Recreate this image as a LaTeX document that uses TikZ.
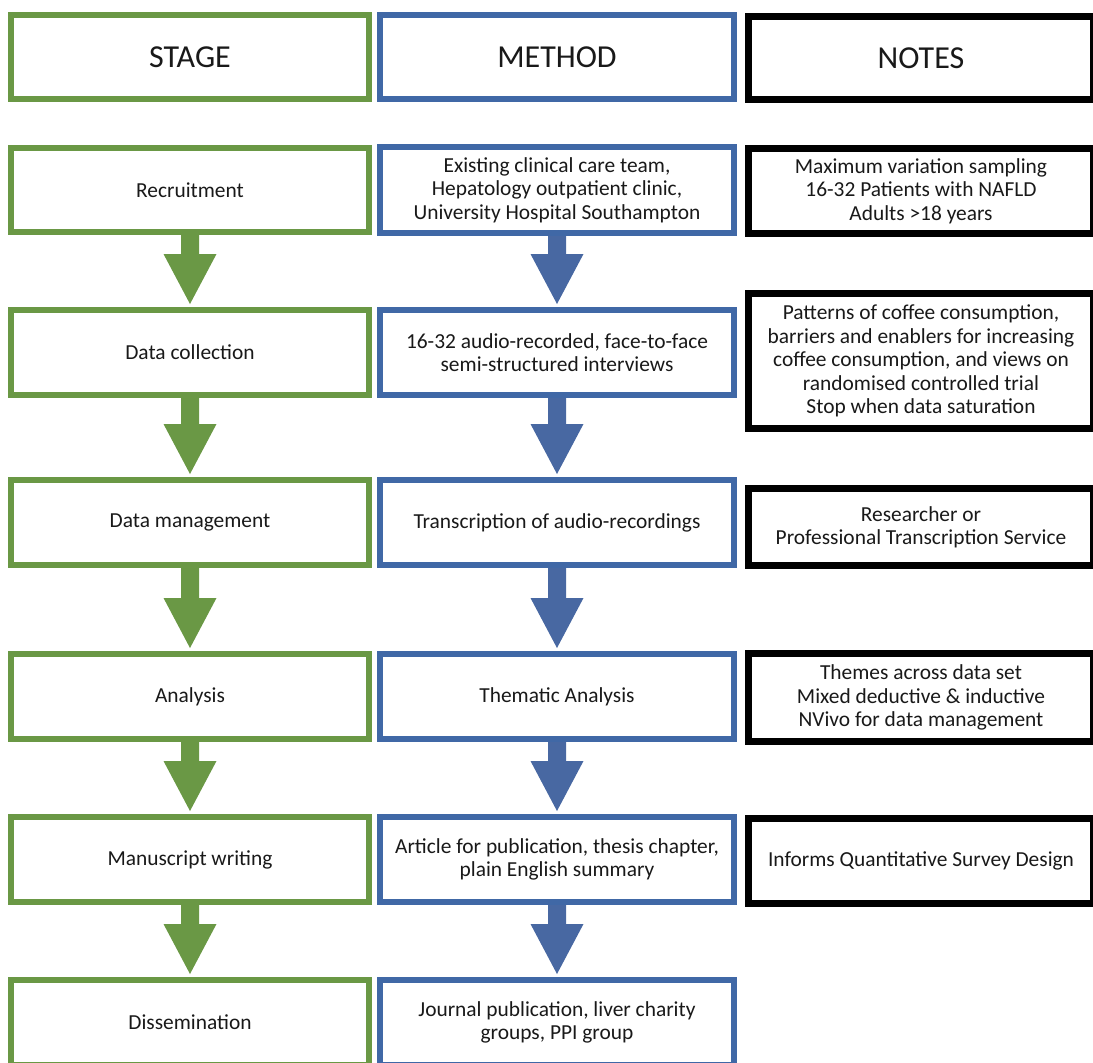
\documentclass[tikz,border=0pt]{standalone}
\usepackage{fontspec}
\setmainfont{Carlito}
\usetikzlibrary{calc}

\definecolor{stagegreen}{RGB}{106,152,69}
\definecolor{methodblue}{RGB}{64,104,166}
\definecolor{arrowblue}{RGB}{72,104,162}

% block arrow from the bottom of one box to the top of the next
\newcommand{\blockarrow}[3]{%
  \fill[#1] ($(#2.south)+(-9,0)$) -- ($(#3.north)+(-9,-53)$)
    -- ($(#3.north)+(-26.5,-53)$) -- ($(#3.north)+(0,-3)$)
    -- ($(#3.north)+(26.5,-53)$) -- ($(#3.north)+(9,-53)$)
    -- ($(#2.south)+(9,0)$) -- cycle;}

\begin{document}
\begin{tikzpicture}[x=1pt,y=-1pt,
  box/.style={draw, fill=white, rectangle, align=center, inner sep=1pt,
    font=\fontsize{21.4}{23.4}\selectfont, text=black!90},
  head/.style={font=\fontsize{32}{36}\selectfont, text depth=0pt, yshift=0pt},
  stagebox/.style={box, draw=stagegreen, line width=6pt, minimum width=358pt},
  methodbox/.style={box, draw=methodblue, line width=6pt, minimum width=354pt},
  notebox/.style={box, draw=black, line width=7pt, minimum width=345pt}]
\useasboundingbox (0,0) rectangle (1093,1063);

% column headings
\node[stagebox, head, minimum height=84pt] (sH) at (190,57) {STAGE};
\node[methodbox, head, minimum height=84pt] (mH) at (557,57) {METHOD};
\node[notebox, head, minimum height=83pt] (nH) at (921,58) {NOTES};

% stage column
\node[stagebox, minimum height=84pt] (s1) at (190,190) {Recruitment};
\node[stagebox, minimum height=85pt] (s2) at (190,352.5) {Data collection};
\node[stagebox, minimum height=85pt] (s3) at (190,522.5) {Data management};
\node[stagebox, minimum height=85pt] (s4) at (190,696.5) {Analysis};
\node[stagebox, minimum height=85pt] (s5) at (190,859.5) {Manuscript writing};
\node[stagebox, minimum height=85pt] (s6) at (190,1022.5) {Dissemination};

% method column
\node[methodbox, minimum height=86pt] (m1) at (557,190)
  {Existing clinical care team,\\Hepatology outpatient clinic,\\University Hospital Southampton};
\node[methodbox, minimum height=85pt] (m2) at (557,352.5)
  {16-32 audio-recorded, face-to-face\\semi-structured interviews};
\node[methodbox, minimum height=85pt] (m3) at (557,522.5)
  {Transcription of audio-recordings};
\node[methodbox, minimum height=85pt] (m4) at (557,696.5) {Thematic Analysis};
\node[methodbox, minimum height=85pt] (m5) at (557,859.5)
  {Article for publication, thesis chapter,\\plain English summary};
\node[methodbox, minimum height=85pt] (m6) at (557,1022.5)
  {Journal publication, liver charity\\groups, PPI group};

% notes column
\node[notebox, minimum height=85pt] (n1) at (921,191)
  {Maximum variation sampling\\16-32 Patients with NAFLD\\Adults >18 years};
\node[notebox, minimum height=135pt] (n2) at (921,361)
  {Patterns of coffee consumption,\\barriers and enablers for increasing\\coffee consumption, and views on\\randomised controlled trial\\Stop when data saturation};
\node[notebox, minimum height=77pt] (n3) at (921,527)
  {Researcher or\\Professional Transcription Service};
\node[notebox, minimum height=88pt] (n4) at (921,697.5)
  {Themes across data set\\Mixed deductive \& inductive\\NVivo for data management};
\node[notebox, minimum height=85pt] (n5) at (921,861)
  {Informs Quantitative Survey Design};

% flow arrows
\foreach \a/\b in {s1/s2,s2/s3,s3/s4,s4/s5,s5/s6}{\blockarrow{stagegreen}{\a}{\b}}
\foreach \a/\b in {m1/m2,m2/m3,m3/m4,m4/m5,m5/m6}{\blockarrow{arrowblue}{\a}{\b}}
\end{tikzpicture}
\end{document}
